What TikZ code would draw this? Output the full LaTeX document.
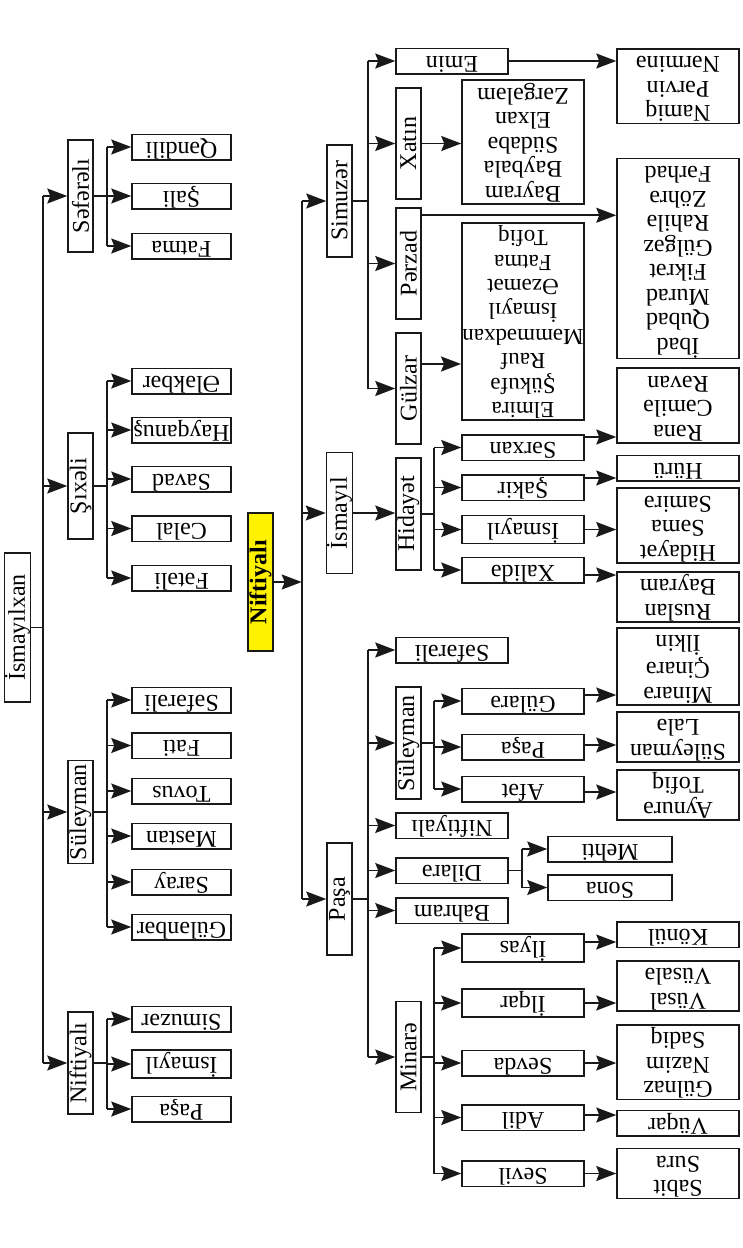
\documentclass[tikz,border=0pt]{standalone}
\usepackage{graphicx}
\usepackage{fontspec}
\setmainfont{Liberation Serif}
\usetikzlibrary{arrows.meta}

\newcommand{\flipname}[1]{\rotatebox[origin=c]{180}{\begin{tabular}{@{}c@{}}#1\end{tabular}}}
\newcommand{\upname}[1]{\rotatebox[origin=c]{90}{#1}}

\tikzset{
	box/.style={draw=black!90, line width=1.5pt, inner sep=0.5pt, font=\fontsize{24}{24.5}\selectfont},
	vbox/.style={box, minimum width=25pt},
	leaf/.style={box, minimum height=25pt},
	sleaf/.style={leaf, minimum width=99pt},
	mleaf/.style={leaf, minimum width=112pt},
	wleaf/.style={leaf, minimum width=122pt},
	ln/.style={line width=1.6pt, draw=black!90},
	arr/.style={ln, -{Stealth[length=20pt, width=15pt, inset=3pt]}}
}

\begin{document}
\begin{tikzpicture}[x=1pt, y=-1pt]
	\useasboundingbox (0,0) rectangle (742,1248);

	% İsmayılxan qolu
	\node[vbox, minimum height=149pt] (ismx) at (17.5,627.5) {\upname{İsmayılxan}};
	\node[vbox, minimum height=112pt] (sef) at (80.5,196) {\upname{Səfərəlı}};
	\node[vbox, minimum height=106pt] (shix) at (80.5,486) {\upname{Şıxəli}};
	\node[vbox, minimum height=103pt] (sul) at (80.5,812) {\upname{Süleyman}};
	\node[vbox, minimum height=102pt] (nifa) at (80.5,1063) {\upname{Niftiyalı}};

	\draw[ln] (ismx.east) -- ++(11.5,0) coordinate (tr);
	\draw[ln] (tr |- sef) -- (tr |- nifa);
	\draw[arr] (tr |- sef) -- (sef.west);
	\draw[arr] (tr |- shix) -- (shix.west);
	\draw[arr] (tr |- sul) -- (sul.west);
	\draw[arr] (tr |- nifa) -- (nifa.west);

	\node[sleaf] (qen) at (181.5,147) {\flipname{Qəndili}};
	\node[sleaf] (sali) at (181.5,196) {\flipname{Şali}};
	\node[sleaf] (fatma) at (181.5,246) {\flipname{Fatma}};
	\draw[ln] (sef.east) -- ++(13,0) coordinate (sefb);
	\draw[ln] (sefb |- qen) -- (sefb |- fatma);
	\draw[arr] (sefb |- qen) -- (qen.west);
	\draw[arr] (sefb |- sali) -- (sali.west);
	\draw[arr] (sefb |- fatma) -- (fatma.west);

	\node[sleaf] (elek) at (181.5,381) {\flipname{Ələkbər}};
	\node[sleaf] (hayq) at (181.5,430) {\flipname{Hayqanuş}};
	\node[sleaf] (savad) at (181.5,479) {\flipname{Savad}};
	\node[sleaf] (celal) at (181.5,528.5) {\flipname{Cəlal}};
	\node[sleaf] (fetel) at (181.5,578) {\flipname{Fətəli}};
	\draw[ln] (shix.east) -- ++(13,0) coordinate (shixb);
	\draw[ln] (shixb |- elek) -- (shixb |- fetel);
	\draw[arr] (shixb |- elek) -- (elek.west);
	\draw[arr] (shixb |- hayq) -- (hayq.west);
	\draw[arr] (shixb |- savad) -- (savad.west);
	\draw[arr] (shixb |- celal) -- (celal.west);
	\draw[arr] (shixb |- fetel) -- (fetel.west);

	\node[sleaf] (sefa) at (181.5,700) {\flipname{Səfərəli}};
	\node[sleaf] (fati) at (181.5,745.5) {\flipname{Fati}};
	\node[sleaf] (tovus) at (181.5,791) {\flipname{Tovus}};
	\node[sleaf] (mestan) at (181.5,836) {\flipname{Məstan}};
	\node[sleaf] (saray) at (181.5,882) {\flipname{Saray}};
	\node[sleaf] (gulen) at (181.5,927) {\flipname{Gülənbər}};
	\draw[ln] (sul.east) -- ++(13,0) coordinate (sulb);
	\draw[ln] (sulb |- sefa) -- (sulb |- gulen);
	\draw[arr] (sulb |- sefa) -- (sefa.west);
	\draw[arr] (sulb |- fati) -- (fati.west);
	\draw[arr] (sulb |- tovus) -- (tovus.west);
	\draw[arr] (sulb |- mestan) -- (mestan.west);
	\draw[arr] (sulb |- saray) -- (saray.west);
	\draw[arr] (sulb |- gulen) -- (gulen.west);

	\node[sleaf] (simz) at (181.5,1019) {\flipname{Simuzər}};
	\node[sleaf] (isma) at (181.5,1064) {\flipname{İsmayıl}};
	\node[sleaf] (pasa) at (181.5,1109) {\flipname{Paşa}};
	\draw[ln] (nifa.east) -- ++(13,0) coordinate (nifb);
	\draw[ln] (nifb |- simz) -- (nifb |- pasa);
	\draw[arr] (nifb |- simz) -- (simz.west);
	\draw[arr] (nifb |- isma) -- (isma.west);
	\draw[arr] (nifb |- pasa) -- (pasa.west);

	% Niftiyalı qolu
	\node[vbox, fill=yellow, minimum height=138pt, font=\fontsize{24}{24.5}\selectfont\bfseries] (main) at (260.5,582) {\upname{Niftiyalı}};
	\coordinate (tr2) at (301.7,582);
	\draw[arr] (main.east) -- (tr2);

	\node[vbox, minimum height=112pt] (simu) at (339.5,201) {\upname{Simuzər}};
	\node[vbox, minimum height=121pt] (ismy) at (339.5,513) {\upname{İsmayıl}};
	\node[vbox, minimum height=112pt] (pasha) at (339.5,899) {\upname{Paşa}};
	\draw[ln] (tr2 |- simu) -- (tr2 |- pasha);
	\draw[arr] (tr2 |- simu) -- (simu.west);
	\draw[arr] (tr2 |- ismy) -- (ismy.west);
	\draw[arr] (tr2 |- pasha) -- (pasha.west);

	% Simuzər
	\node[mleaf] (emin) at (452,61) {\flipname{Emin}};
	\node[vbox, minimum height=111pt] (xatin) at (408.5,143.5) {\upname{Xatın}};
	\node[vbox, minimum height=111pt] (perzad) at (408.5,263.5) {\upname{Pərzad}};
	\node[vbox, minimum height=111pt] (gulzar) at (408.5,388.5) {\upname{Gülzar}};
	\draw[ln] (simu.east) -- ++(15.5,0) coordinate (simb);
	\draw[ln] (simb |- emin) -- (simb |- gulzar);
	\draw[arr] (simb |- emin) -- (emin.west);
	\draw[arr] (simb |- xatin) -- (xatin.west);
	\draw[arr] (simb |- perzad) -- (perzad.west);
	\draw[arr] (simb |- gulzar) -- (gulzar.west);

	\node[wleaf, minimum height=74pt] (namiq) at (678,86) {\flipname{Namiq\\Pərvin\\Nərminə}};
	\node[wleaf, minimum height=197pt] (ibad) at (678,258.5) {\flipname{İbad\\Qubad\\Murad\\Fikrət\\Gülgəz\\Rahilə\\Zöhrə\\Fərhad}};
	\node[wleaf, minimum height=124pt] (xlist) at (523,142) {\flipname{Bayram\\Baybala\\Südabə\\Elxan\\Zərgələm}};
	\node[wleaf, minimum height=193pt, font=\fontsize{23}{24.2}\selectfont] (glist) at (523,321.5) {\flipname{Elmira\\Şükufə\\Rauf\\Məmmədxan\\İsmayıl\\Əzəmət\\Fatma\\Tofiq}};
	\draw[arr] (emin.east) -- (emin.east -| namiq.west);
	\draw[arr] (xatin.east) -- (xatin.east -| xlist.west);
	\draw[arr] ([yshift=-8pt]perzad.north east) coordinate (pz) -- (pz -| ibad.west);
	\draw[arr] ([yshift=24.5pt]gulzar.east) coordinate (gz) -- (gz -| glist.west);

	% İsmayıl
	\node[vbox, minimum height=112pt] (hidayet) at (408.5,514) {\upname{Hidayət}};
	\draw[arr] (ismy.east) -- (ismy.east -| hidayet.west);

	\node[wleaf] (serxan) at (523,447.5) {\flipname{Sərxan}};
	\node[wleaf] (shakir) at (523,487.5) {\flipname{Şakir}};
	\node[wleaf] (ismy2) at (523,529.5) {\flipname{İsmayıl}};
	\node[wleaf] (xalide) at (523,570) {\flipname{Xalidə}};
	\draw[ln] (hidayet.east) -- ++(12,0) coordinate (hidb);
	\draw[ln] (hidb |- serxan) -- (hidb |- xalide);
	\draw[arr] (hidb |- serxan) -- (serxan.west);
	\draw[arr] (hidb |- shakir) -- (shakir.west);
	\draw[arr] (hidb |- ismy2) -- (ismy2.west);
	\draw[arr] (hidb |- xalide) -- (xalide.west);

	\node[wleaf, minimum height=75pt] (rena) at (678,405.5) {\flipname{Rəna\\Cəmilə\\Rəvan}};
	\node[wleaf, minimum height=24pt] (huru) at (678,468) {\flipname{Hürü}};
	\node[wleaf, minimum height=75pt] (hsama) at (678,525.5) {\flipname{Hidayət\\Səma\\Samirə}};
	\node[wleaf, minimum height=50pt] (ruslan) at (678,597) {\flipname{Ruslan\\Bayram}};
	\draw[arr] ([yshift=10.5pt]serxan.east) coordinate (sx) -- (sx -| rena.west);
	\draw[arr] ([yshift=9.5pt]shakir.east) coordinate (sk) -- (sk -| huru.west);
	\draw[arr] (ismy2.east) -- (ismy2.east -| hsama.west);
	\draw[arr] ([yshift=-5pt]xalide.east) coordinate (xd) -- (xd -| ruslan.west);

	% Paşa
	\node[mleaf] (sefp) at (452,650) {\flipname{Səfərəli}};
	\node[vbox, minimum height=112pt] (sulp) at (408.5,743) {\upname{Süleyman}};
	\node[mleaf] (nifp) at (452,825.5) {\flipname{Niftiyalı}};
	\node[mleaf] (dilare) at (452,870.5) {\flipname{Dilarə}};
	\node[mleaf] (bahram) at (452,910.5) {\flipname{Bahram}};
	\node[vbox, minimum height=111pt] (minare) at (408.5,1057) {\upname{Minarə}};
	\draw[ln] (pasha.east) -- ++(15.5,0) coordinate (pasb);
	\draw[ln] (pasb |- sefp) -- (pasb |- minare);
	\draw[arr] (pasb |- sefp) -- (sefp.west);
	\draw[arr] (pasb |- sulp) -- (sulp.west);
	\draw[arr] (pasb |- nifp) -- (nifp.west);
	\draw[arr] (pasb |- dilare) -- (dilare.west);
	\draw[arr] (pasb |- bahram) -- (bahram.west);
	\draw[arr] (pasb |- minare) -- (minare.west);

	\node[wleaf] (gulare) at (523,701) {\flipname{Gülarə}};
	\node[wleaf] (pasa2) at (523,747) {\flipname{Paşa}};
	\node[wleaf] (afet) at (523,789) {\flipname{Afət}};
	\draw[ln] (sulp.east) -- ++(12,0) coordinate (sulpb);
	\draw[ln] (sulpb |- gulare) -- (sulpb |- afet);
	\draw[arr] (sulpb |- gulare) -- (gulare.west);
	\draw[arr] (sulpb |- pasa2) -- (pasa2.west);
	\draw[arr] (sulpb |- afet) -- (afet.west);

	\node[wleaf, minimum height=73pt] (minlist) at (678,666.5) {\flipname{Minarə\\Çinarə\\İlkin}};
	\node[wleaf, minimum height=49pt] (sullale) at (678,737) {\flipname{Süleyman\\Lalə}};
	\node[wleaf, minimum height=50pt] (aynure) at (678,795) {\flipname{Aynurə\\Tofiq}};
	\draw[arr] ([yshift=6pt]gulare.east) coordinate (gr) -- (gr -| minlist.west);
	\draw[arr] ([yshift=2pt]pasa2.east) coordinate (ps) -- (ps -| sullale.west);
	\draw[arr] ([yshift=-3pt]afet.east) coordinate (af) -- (af -| aynure.west);

	\node[leaf, minimum width=124pt] (mehti) at (610,849) {\flipname{Mehti}};
	\node[leaf, minimum width=124pt] (sona) at (610,887.5) {\flipname{Sona}};
	\draw[ln] (dilare.east) -- ++(13,0) coordinate (dilb);
	\draw[ln] (dilb |- mehti) -- (dilb |- sona);
	\draw[arr] (dilb |- mehti) -- (mehti.west);
	\draw[arr] (dilb |- sona) -- (sona.west);

	% Minarə
	\node[wleaf] (ilyas) at (523,948) {\flipname{İlyas}};
	\node[wleaf] (ilqar) at (523,1003) {\flipname{İlqar}};
	\node[wleaf] (sevda) at (523,1063) {\flipname{Sevda}};
	\node[wleaf] (adil) at (523,1117.5) {\flipname{Adil}};
	\node[wleaf] (sevil) at (523,1173.5) {\flipname{Sevil}};
	\draw[ln] (minare.east) -- ++(12,0) coordinate (minb);
	\draw[ln] (minb |- ilyas) -- (minb |- sevil);
	\draw[arr] (minb |- ilyas) -- (ilyas.west);
	\draw[arr] (minb |- ilqar) -- (ilqar.west);
	\draw[arr] (minb |- sevda) -- (sevda.west);
	\draw[arr] (minb |- adil) -- (adil.west);
	\draw[arr] (minb |- sevil) -- (sevil.west);

	\node[wleaf, minimum height=24pt] (konul) at (678,934.7) {\flipname{Könül}};
	\node[wleaf, minimum height=49pt] (vusal) at (678,986) {\flipname{Vüsal\\Vüsalə}};
	\node[wleaf, minimum height=74pt] (gulnaz) at (678,1062) {\flipname{Gülnaz\\Nazim\\Sadiq}};
	\node[wleaf, minimum height=24pt] (vuqar) at (678,1123) {\flipname{Vüqar}};
	\node[wleaf, minimum height=49pt] (sabit) at (678,1173.5) {\flipname{Sabit\\Sura}};
	\draw[arr] ([yshift=6pt]ilyas.east) coordinate (il) -- (il -| konul.west);
	\draw[arr] (ilqar.east) -- (ilqar.east -| vusal.west);
	\draw[arr] (sevda.east) -- (sevda.east -| gulnaz.west);
	\draw[arr] ([yshift=2.5pt]adil.east) coordinate (ad) -- (ad -| vuqar.west);
	\draw[arr] (sevil.east) -- (sevil.east -| sabit.west);
\end{tikzpicture}
\end{document}
